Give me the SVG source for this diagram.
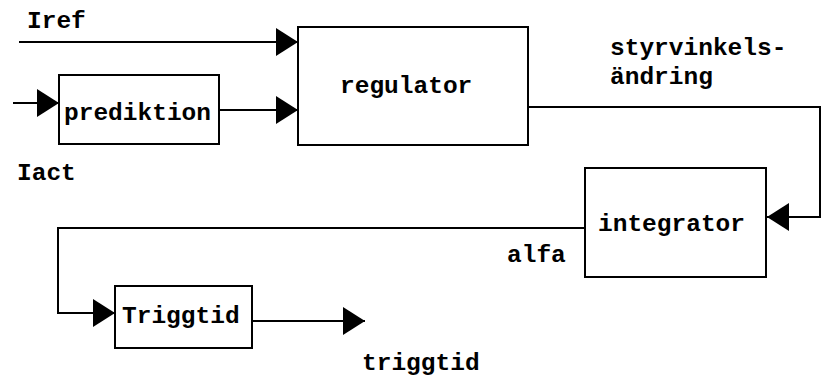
<svg xmlns="http://www.w3.org/2000/svg" width="822" height="378" viewBox="0 0 822 378">
  <style>
    .box { fill: #fff; stroke: #000; stroke-width: 2; }
    .wire { fill: none; stroke: #000; stroke-width: 2; }
    text { font-family: "Liberation Mono", "DejaVu Sans Mono", monospace; font-weight: bold; font-size: 24.5px; fill: #000; }
  </style>
  <defs>
    <marker id="arrow" markerUnits="userSpaceOnUse" markerWidth="22" markerHeight="28" refX="22" refY="14" orient="auto">
      <path d="M0,0 L22,14 L0,28 z" fill="#000"/>
    </marker>
  </defs>
  <rect width="822" height="378" fill="#fff"/>

  <g id="connectors">
    <path class="wire" d="M19,42 H298" marker-end="url(#arrow)"/>
    <path class="wire" d="M13,103 H59" marker-end="url(#arrow)"/>
    <path class="wire" d="M219,110 H298" marker-end="url(#arrow)"/>
    <path class="wire" d="M528,107 H820 V217 H767" marker-end="url(#arrow)"/>
    <path class="wire" d="M585,228 H58 V313 H115" marker-end="url(#arrow)"/>
    <path class="wire" d="M252,321 H365" marker-end="url(#arrow)"/>
  </g>

  <g id="prediktion">
    <rect class="box" x="59" y="75" width="160" height="69"/>
    <text x="64" y="120">prediktion</text>
  </g>
  <g id="regulator">
    <rect class="box" x="298" y="27" width="230" height="118"/>
    <text x="340" y="93">regulator</text>
  </g>
  <g id="integrator">
    <rect class="box" x="585" y="168" width="181" height="109"/>
    <text x="598" y="231">integrator</text>
  </g>
  <g id="triggtid-block">
    <rect class="box" x="115" y="286" width="137" height="62"/>
    <text x="122" y="323">Triggtid</text>
  </g>

  <g id="labels">
    <text x="27" y="28">Iref</text>
    <text x="17" y="180">Iact</text>
    <text x="610" y="55">styrvinkels-</text>
    <text x="610" y="84">ändring</text>
    <text x="507" y="262">alfa</text>
    <text x="362" y="370">triggtid</text>
  </g>
</svg>
